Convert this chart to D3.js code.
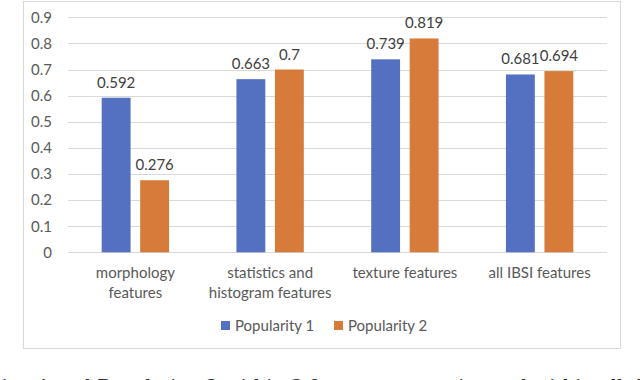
<!DOCTYPE html>
<html><head><meta charset="utf-8">
<script src="https://cdn.jsdelivr.net/npm/d3@7"></script>
<style>html,body{margin:0;padding:0;background:#fff;}svg{display:block;}</style>
</head><body>
<svg id="chart" width="640" height="380"></svg>
<script>
const categories = [["morphology","features"],["statistics and","histogram features"],["texture features"],["all IBSI features"]];
const seriesNames = ["Popularity 1","Popularity 2"];
const popularity1 = [0.592, 0.663, 0.739, 0.681];
const popularity2 = [0.276, 0.7, 0.819, 0.694];
const yTicks = [0,0.1,0.2,0.3,0.4,0.5,0.6,0.7,0.8,0.9];
const captionText = "tion 1 and Population 2 within 3 feature categories and within all the";

const colors = ["#5470c1", "#d67b3a"];
const font = "Lato, 'Open Sans', sans-serif";
const svg = d3.select("#chart");

// chart border
svg.append("rect").attr("x",23.5).attr("y",1.5).attr("width",597).attr("height",347)
  .attr("fill","#fff").attr("stroke","#d9d9d9").attr("stroke-width",1);

const left = 68, right = 607;
const x0 = d3.scaleBand().domain(d3.range(categories.length)).range([left,right]).paddingInner(0).paddingOuter(0);
const y = d3.scaleLinear().domain([0,0.9]).range([252.3,17.3]);
const x1 = d3.scaleBand().domain([0,1]).range([x0.bandwidth()*0.25, x0.bandwidth()*0.75]).paddingInner(0.25).paddingOuter(0);

// gridlines
svg.append("g").selectAll("line").data(yTicks).join("line")
  .attr("x1",left).attr("x2",right)
  .attr("y1",d=>Math.round(y(d))+0.5).attr("y2",d=>Math.round(y(d))+0.5)
  .attr("stroke","#d9d9d9").attr("stroke-width",1);

// y axis labels via d3 axis
const yAxis = d3.axisLeft(y).tickValues(yTicks).tickSize(0).tickPadding(0)
  .tickFormat(d=> d===0 ? "0" : d3.format(".1f")(d));
const ga = svg.append("g").attr("transform","translate(52,0)").call(yAxis);
ga.select(".domain").remove();
ga.selectAll("text").attr("font-family",font).attr("font-size",15).attr("fill","#595959");

const data = categories.map((c,i)=>({i, vals:[popularity1[i],popularity2[i]]}));
const groups = svg.append("g").selectAll("g").data(data).join("g")
  .attr("transform",d=>`translate(${x0(d.i)},0)`);
groups.selectAll("rect").data(d=>d.vals.map((v,k)=>({v,k}))).join("rect")
  .attr("x",d=>x1(d.k)).attr("width",x1.bandwidth())
  .attr("y",d=>y(d.v)).attr("height",d=>y(0)-y(d.v))
  .attr("fill",d=>colors[d.k]);
groups.selectAll("text.lbl").data(d=>d.vals.map((v,k)=>({v,k}))).join("text")
  .attr("class","lbl")
  .attr("x",d=>x1(d.k)+x1.bandwidth()/2).attr("y",d=>y(d.v)-10)
  .attr("text-anchor","middle").attr("font-family",font).attr("font-size",15).attr("fill","#404040")
  .text(d=>String(d.v));

// category labels
const cg = svg.append("g").selectAll("text").data(categories).join("text")
  .attr("x",(d,i)=>x0(i)+x0.bandwidth()/2).attr("y",278)
  .attr("text-anchor","middle").attr("font-family",font).attr("font-size",15).attr("fill","#595959");
cg.selectAll("tspan").data(d=>d).join("tspan")
  .attr("x",function(){return this.parentNode.getAttribute("x");})
  .attr("dy",(d,j)=>j===0?0:20).text(d=>d);

// legend
const legX = [221, 334];
const lg = svg.append("g").selectAll("g").data(seriesNames).join("g")
  .attr("transform",(d,i)=>`translate(${legX[i]},321)`);
lg.append("rect").attr("width",9).attr("height",9).attr("fill",(d,i)=>colors[i]);
lg.append("text").attr("x",14).attr("y",10).attr("font-family",font).attr("font-size",15).attr("fill","#595959").text(d=>d);

// cut-off caption (cropped in the reference)
svg.append("text").attr("x",-6).attr("y",393).attr("font-family","'DejaVu Serif', serif").attr("font-size",19)
  .attr("fill","#333").text(captionText);
</script>
</body></html>
